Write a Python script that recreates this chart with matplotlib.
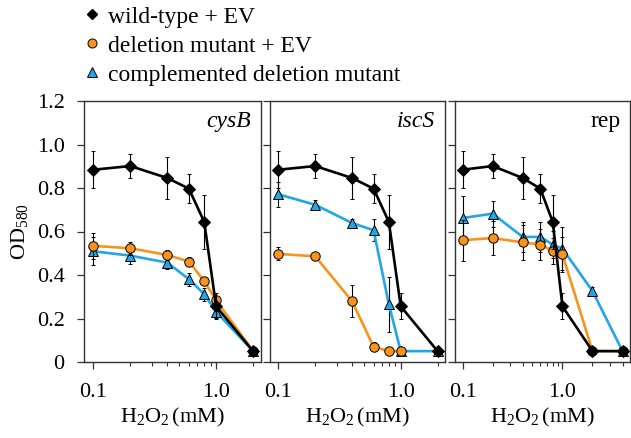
import matplotlib
matplotlib.use('Agg')
import matplotlib.pyplot as plt
from matplotlib.lines import Line2D
from matplotlib.ticker import FixedLocator, NullFormatter

plt.rcParams['font.family'] = ['Liberation Serif', 'DejaVu Serif']
plt.rcParams['mathtext.fontset'] = 'custom'
plt.rcParams['mathtext.rm'] = 'Liberation Serif'
plt.rcParams['mathtext.it'] = 'Liberation Serif:italic'

# H2O2 concentrations (mM)
conc = [0.1, 0.2, 0.4, 0.6, 0.8, 1.0, 2.0]
conc_rep = [0.1, 0.2, 0.4, 0.6, 0.8, 1.0, 2.0, 4.0]

# wild-type + EV (same control in every panel)
wt = [0.884, 0.901, 0.846, 0.797, 0.644, 0.256, 0.05]
wt_err = [0.085, 0.055, 0.095, 0.068, 0.125, 0.06, 0.01]
wt_rep = wt + [0.05]
wt_rep_err = wt_err + [0.01]

# cysB
cysb_del = [0.534, 0.523, 0.492, 0.462, 0.372, 0.283, 0.05]
cysb_del_err = [0.06, 0.03, 0.025, 0.02, 0.02, 0.02, 0.01]
cysb_comp = [0.509, 0.489, 0.457, 0.381, 0.312, 0.231, 0.05]
cysb_comp_err = [0.065, 0.04, 0.03, 0.03, 0.03, 0.03, 0.01]

# iscS
conc_isc_del = [0.1, 0.2, 0.4, 0.6, 0.8, 1.0]
iscs_del = [0.497, 0.486, 0.28, 0.07, 0.05, 0.05]
iscs_del_err = [0.03, 0.015, 0.075, 0.02, 0.01, 0.01]
iscs_comp = [0.771, 0.723, 0.639, 0.606, 0.265, 0.05, 0.05]
iscs_comp_err = [0.058, 0.02, 0.02, 0.05, 0.125, 0.01, 0.01]

# rep
rep_del = [0.56, 0.57, 0.55, 0.54, 0.511, 0.495, 0.05, 0.05]
rep_del_err = [0.095, 0.08, 0.08, 0.07, 0.06, 0.08, 0.01, 0.01]
rep_comp = [0.662, 0.682, 0.575, 0.575, 0.54, 0.521, 0.326, 0.05]
rep_comp_err = [0.1, 0.06, 0.07, 0.07, 0.06, 0.1, 0.02, 0.01]

labels = ['wild-type + EV', 'deletion mutant + EV', 'complemented deletion mutant']
italic = [True, True, False]

ORANGE = '#F7941E'
BLUE = '#22A6E6'
SPINE = '#333333'

panels = [
    dict(name='cysB', xlim=(0.0839, 2.32), left=84,
         wt=(conc, wt, wt_err),
         dele=(conc, cysb_del, cysb_del_err),
         comp=(conc, cysb_comp, cysb_comp_err)),
    dict(name='iscS', xlim=(0.0855, 2.30), left=270,
         wt=(conc, wt, wt_err),
         dele=(conc_isc_del, iscs_del, iscs_del_err),
         comp=(conc, iscs_comp, iscs_comp_err)),
    dict(name='rep', xlim=(0.0839, 4.75), left=455,
         wt=(conc_rep, wt_rep, wt_rep_err),
         dele=(conc_rep, rep_del, rep_del_err),
         comp=(conc_rep, rep_comp, rep_comp_err)),
]
widths = [177, 175, 175]

W, H = 631, 438
fig = plt.figure(figsize=(W / 100, H / 100), dpi=100)

bottom_px, top_px = 362, 101
for i, p in enumerate(panels):
    ax = fig.add_axes([p['left'] / W, (H - bottom_px) / H, widths[i] / W, (bottom_px - top_px) / H])

    err_kw = dict(ecolor='black', elinewidth=0.8, capsize=1.6, capthick=0.8)
    x, y, e = p['comp']
    ax.errorbar(x, y, yerr=e, color=BLUE, lw=1.9, marker='^', ms=7.5,
                mfc=BLUE, mec='black', mew=0.7, zorder=3, **err_kw)
    x, y, e = p['dele']
    ax.errorbar(x, y, yerr=e, color=ORANGE, lw=1.9, marker='o', ms=6.8,
                mfc=ORANGE, mec='black', mew=0.7, zorder=4, **err_kw)
    x, y, e = p['wt']
    ax.errorbar(x, y, yerr=e, color='black', lw=1.9, marker='D', ms=5.8,
                mfc='black', mec='black', mew=0.7, zorder=5, **err_kw)

    ax.set_xscale('log')
    ax.set_xlim(*p['xlim'])
    ax.set_ylim(0, 1.2)
    ax.xaxis.set_major_locator(FixedLocator([0.1, 1.0]))
    ax.set_xticklabels(['0.1', '1.0'])
    minors = [v / 10 for v in range(2, 10)] + [2.0, 3.0, 4.0]
    ax.xaxis.set_minor_locator(FixedLocator([m for m in minors if m < p['xlim'][1]]))
    ax.xaxis.set_minor_formatter(NullFormatter())
    ax.set_yticks([0, 0.2, 0.4, 0.6, 0.8, 1.0, 1.2])
    if i == 0:
        ax.set_yticklabels(['0', '0.2', '0.4', '0.6', '0.8', '1.0', '1.2'])
        ax.set_ylabel(r'$\mathrm{OD_{580}}$', fontsize=16, labelpad=5)
    else:
        ax.set_yticklabels([])
    ax.tick_params(which='major', direction='out', length=5, width=0.9,
                   labelsize=16, color=SPINE)
    ax.tick_params(axis='x', which='major', pad=10)
    ax.tick_params(axis='y', which='major', pad=9)
    ax.tick_params(which='minor', direction='out', length=3, width=0.8, color=SPINE)
    for s in ax.spines.values():
        s.set_color(SPINE)
        s.set_linewidth(1.0)
    ax.set_xlabel(r'$\mathrm{H_2O_2\,(mM)}$', fontsize=16, labelpad=3)
    ax.text(0.945, 0.923, p['name'], transform=ax.transAxes, ha='right', va='center',
            fontsize=17, style='italic' if italic[i] else 'normal')

handles = [
    Line2D([], [], ls='none', marker='D', ms=5.5, mfc='black', mec='black'),
    Line2D([], [], ls='none', marker='o', ms=6.5, mfc=ORANGE, mec='black', mew=0.7),
    Line2D([], [], ls='none', marker='^', ms=7, mfc=BLUE, mec='black', mew=0.7),
]
fig.legend(handles, labels, loc='upper left', bbox_to_anchor=(84 / W, 1 - 6 / H),
           frameon=False, fontsize=17, handlelength=0.7, handletextpad=0.3,
           labelspacing=0.32, borderpad=0, borderaxespad=0)

fig.savefig('out.png', dpi=100)
